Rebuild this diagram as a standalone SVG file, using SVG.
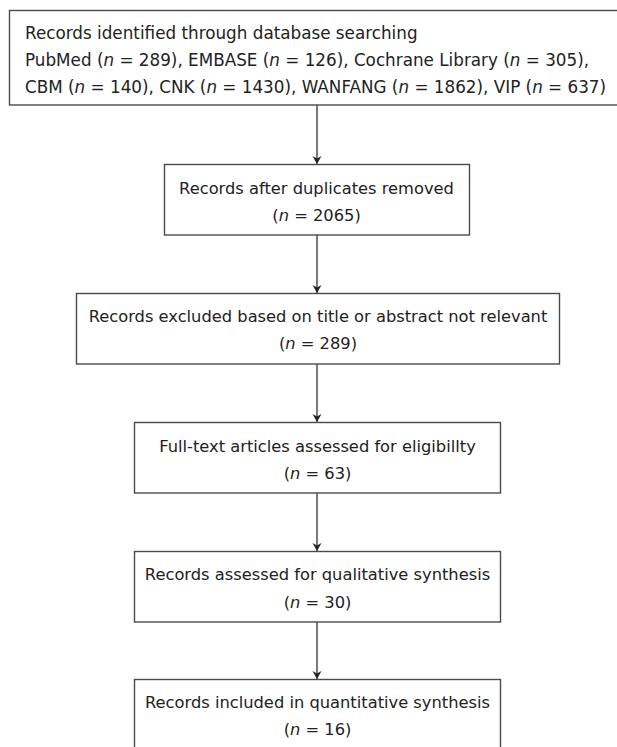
<svg xmlns="http://www.w3.org/2000/svg" width="617" height="747" viewBox="0 0 617 747">
<defs>
<marker id="ah" markerWidth="8" markerHeight="10" refX="8" refY="5" orient="auto" markerUnits="userSpaceOnUse">
<path d="M0,0.5 L8,5 L0,9.5 L2.5,5 Z" fill="#222"/>
</marker>
<style>
.box{fill:#fff;stroke:#4a4a4a;stroke-width:1.4}
.t{font-family:"DejaVu Sans",Verdana,sans-serif;font-size:16.3px;fill:#222}
.big{font-size:16.8px}
.c{text-anchor:middle}
.i{font-style:italic}
.ln{stroke:#222;stroke-width:1.2;fill:none}
</style>
</defs>
<rect width="617" height="747" fill="#fff"/>
<g id="connectors">
<line class="ln" x1="317" y1="105" x2="317" y2="164" marker-end="url(#ah)"/>
<line class="ln" x1="317" y1="235" x2="317" y2="293" marker-end="url(#ah)"/>
<line class="ln" x1="317" y1="364" x2="317" y2="422" marker-end="url(#ah)"/>
<line class="ln" x1="317" y1="493" x2="317" y2="551" marker-end="url(#ah)"/>
<line class="ln" x1="317" y1="622" x2="317" y2="679" marker-end="url(#ah)"/>
</g>
<g id="n1">
<rect class="box" x="9.5" y="10.5" width="610" height="94.5"/>
<text class="t big" x="25" y="39">Records identified through database searching</text>
<text class="t big" x="25" y="66">PubMed (<tspan class="i">n</tspan> = 289), EMBASE (<tspan class="i">n</tspan> = 126), Cochrane Library (<tspan class="i">n</tspan> = 305),</text>
<text class="t big" x="25" y="93">CBM (<tspan class="i">n</tspan> = 140), CNK (<tspan class="i">n</tspan> = 1430), WANFANG (<tspan class="i">n</tspan> = 1862), VIP (<tspan class="i">n</tspan> = 637)</text>
</g>
<g id="n2">
<rect class="box" x="164.5" y="164.5" width="305" height="70.5"/>
<text class="t c" x="316.5" y="193.5">Records after duplicates removed</text>
<text class="t c" x="316.5" y="220.5">(<tspan class="i">n</tspan> = 2065)</text>
</g>
<g id="n3">
<rect class="box" x="76.5" y="293.5" width="483" height="70.5"/>
<text class="t c" x="318" y="321.5">Records excluded based on title or abstract not relevant</text>
<text class="t c" x="318" y="348.5">(<tspan class="i">n</tspan> = 289)</text>
</g>
<g id="n4">
<rect class="box" x="134.5" y="422.5" width="366" height="70.5"/>
<text class="t c" x="317.5" y="451.5">Full-text articles assessed for eligibillty</text>
<text class="t c" x="317.5" y="478.5">(<tspan class="i">n</tspan> = 63)</text>
</g>
<g id="n5">
<rect class="box" x="134.5" y="551.5" width="366" height="70.5"/>
<text class="t c" x="317.5" y="580">Records assessed for qualitative synthesis</text>
<text class="t c" x="317.5" y="607.5">(<tspan class="i">n</tspan> = 30)</text>
</g>
<g id="n6">
<rect class="box" x="134.5" y="679.5" width="366" height="72"/>
<text class="t c" x="317.5" y="707.5">Records included in quantitative synthesis</text>
<text class="t c" x="317.5" y="735">(<tspan class="i">n</tspan> = 16)</text>
</g>
</svg>
